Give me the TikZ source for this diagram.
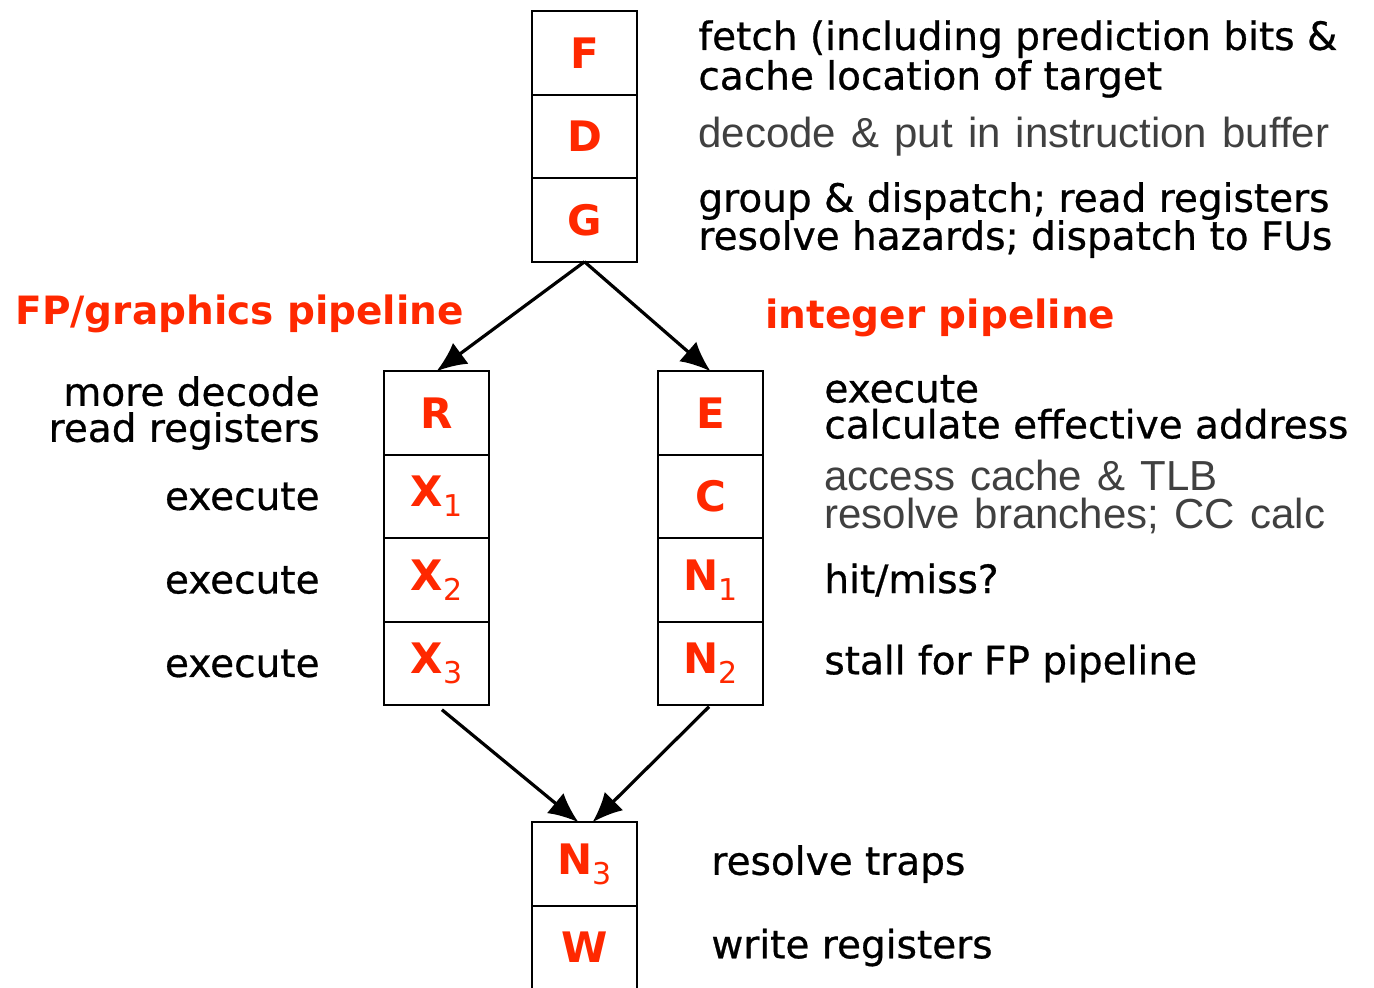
\documentclass[tikz,border=0pt]{standalone}
\usepackage{fontspec}
\setmainfont{DejaVu Sans}
\newfontfamily\notefont{DejaVu Sans}[UprightFeatures={FakeBold=0.7}]
\newfontfamily\thinfont{Liberation Sans}[WordSpace=1.3]
\usepackage{xcolor}
\usetikzlibrary{arrows.meta,positioning}
\definecolor{stagered}{RGB}{255,40,0}
\newcommand{\stg}[2]{#1\raisebox{-5pt}{\fontsize{15}{15}\selectfont\mdseries #2}}

\begin{document}
\begin{tikzpicture}[x=0.5pt, y=-0.5pt, node distance=0pt]
    \tikzstyle{stage} = [rectangle, draw, line width=1pt, minimum width=52.5pt, minimum height=41.75pt, inner sep=0pt, outer sep=0pt, text=stagered, font=\fontsize{21}{21}\selectfont\bfseries]
    \tikzstyle{note} = [inner sep=0pt, align=left, font=\notefont\fontsize{19.5}{18}\selectfont]
    \tikzstyle{thin} = [inner sep=0pt, align=left, text=black!75, font=\thinfont\fontsize{21}{19}\selectfont]
    \tikzstyle{heading} = [inner sep=0pt, anchor=west, text=stagered, font=\fontsize{19.5}{19.5}\selectfont\bfseries]
    \tikzstyle{flow} = [line width=1.6pt, -{Latex[length=15pt,width=13pt]}]

    \useasboundingbox (0,0) rectangle (1374,987);

    % Front end
    \node [stage] (F) at (584.5,53) {F};
    \node [stage, below=of F] (D) {D};
    \node [stage, below=of D] (G) {G};

    % FP/graphics pipeline
    \node [stage] (R) at (436.5,413) {R};
    \node [stage, below=of R] (X1) {\stg{X}{1}};
    \node [stage, below=of X1] (X2) {\stg{X}{2}};
    \node [stage, below=of X2] (X3) {\stg{X}{3}};

    % Integer pipeline
    \node [stage] (E) at (710.5,413) {E};
    \node [stage, below=of E] (C) {C};
    \node [stage, below=of C] (N1) {\stg{N}{1}};
    \node [stage, below=of N1] (N2) {\stg{N}{2}};

    % Back end
    \node [stage] (N3) at (584.5,864) {\stg{N}{3}};
    \node [stage, below=of N3] (W) {W};

    % Headings
    \node [heading] (fphead) at (15,314) {FP/graphics pipeline};
    \node [heading] (inthead) at (765,318) {integer pipeline};

    % Descriptions
    \node [note, right=30.5pt of F, yshift=-3pt, font=\notefont\fontsize{19.5}{17}\selectfont] (fetch) {fetch (including prediction bits \&\\cache location of target};
    \node [thin, right=30.5pt of D] (decode) {decode \& put in instruction buffer};
    \node [note, right=30.5pt of G, font=\notefont\fontsize{19.5}{19}\selectfont] (group) {group \& dispatch; read registers\\resolve hazards; dispatch to FUs};

    \node [note, left=32pt of R, align=right] (moredec) {more decode\\read registers};
    \node [note, left=32pt of X1] (exec1) {execute};
    \node [note, left=32pt of X2] (exec2) {execute};
    \node [note, left=32pt of X3] (exec3) {execute};

    \node [note, right=30.5pt of E, yshift=3pt] (addr) {execute\\calculate effective address};
    \node [thin, right=30.5pt of C] (cache) {access cache \& TLB\\resolve branches; CC calc};
    \node [note, right=30.5pt of N1] (hit) {hit/miss?};
    \node [note, right=30.5pt of N2] (stall) {stall for FP pipeline};

    \node [note, right=37pt of N3] (traps) {resolve traps};
    \node [note, right=37pt of W] (write) {write registers};

    % Arrows
    \draw [flow] (G.south) -- (R.north);
    \draw [flow] (G.south) -- (E.north);
    \draw [flow, shorten <=3.5pt] (X3.south) -- ([xshift=-3pt]N3.north);
    \draw [flow, shorten <=1pt] (N2.south) -- ([xshift=4pt]N3.north);
\end{tikzpicture}
\end{document}
